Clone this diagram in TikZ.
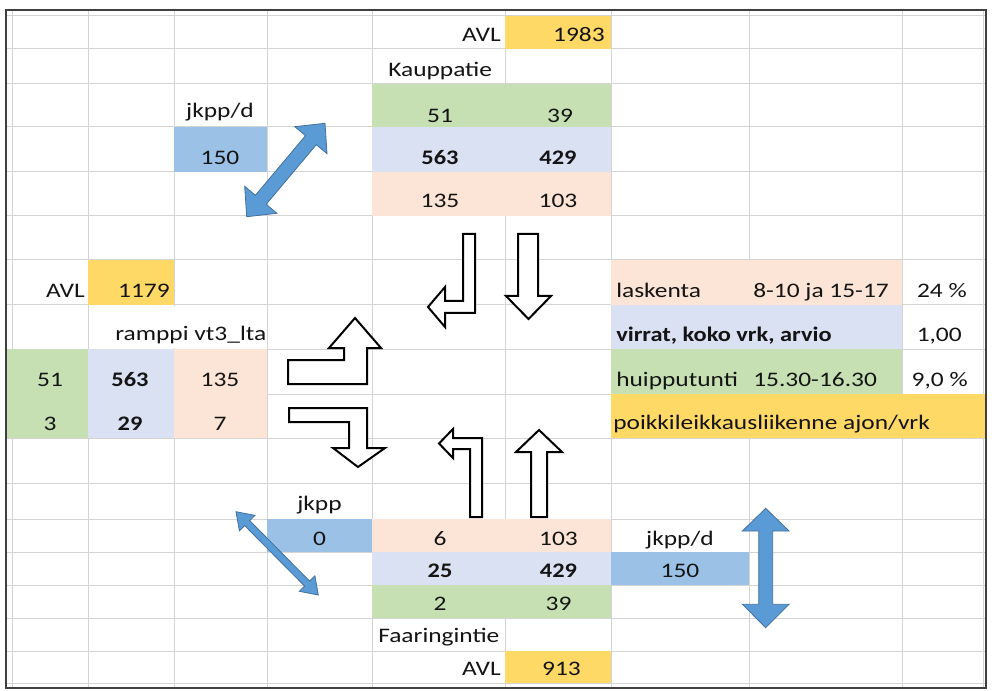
\documentclass[tikz,border=0pt]{standalone}
\usepackage{fontspec}
\setmainfont{Carlito}[FakeStretch=1.23,BoldFeatures={FakeStretch=1.18}]
\definecolor{cgreen}{HTML}{C6E0B4}
\definecolor{clav}{HTML}{D9E1F2}
\definecolor{cpeach}{HTML}{FCE4D6}
\definecolor{corange}{HTML}{FFD966}
\definecolor{cblue}{HTML}{9BC2E6}
\definecolor{carrow}{HTML}{5B9BD5}
\definecolor{carrowb}{HTML}{41719C}
\definecolor{cgrid}{HTML}{D4D4D4}
\definecolor{cframe}{HTML}{404040}
\definecolor{ctext}{HTML}{141414}
\begin{document}
\begin{tikzpicture}[x=0.75pt,y=-0.75pt,
  gridline/.style={draw=cgrid,line width=0.75pt},
  txt/.style={inner sep=0pt,text=ctext,font=\fontsize{15.5pt}{18pt}\selectfont},
  btxt/.style={txt,font=\fontsize{15.5pt}{18pt}\selectfont\bfseries},
  blockarrow/.style={draw=black,fill=white,line width=1.5pt,line join=miter},
  bluearrow/.style={draw=carrowb,fill=carrow,line width=0.6pt,line join=miter}]
\useasboundingbox (0,0) rectangle (995,691);
\fill[white] (0,0) rectangle (995,691);
% grid
\foreach \x in {12,88,174,267,372,505,611,749,902,983}
  \draw[gridline] (\x,11) -- (\x,688);
\foreach \y in {16,49,84,127,172,216,260,305,349,394,438,483,519,552,585,618,651,683}
  \draw[gridline] (7,\y) -- (985,\y);
% fills top
\fill[corange] (505,16) rectangle (611,49);
\fill[cgreen] (372,84) rectangle (611,127);
\fill[clav] (372,127) rectangle (611,172);
\fill[cpeach] (372,172) rectangle (611,216);
\fill[cblue] (174,127) rectangle (267,172);
% fills left
\fill[corange] (88,260) rectangle (174,305);
\fill[cgreen] (7,349) rectangle (88,438);
\fill[clav] (88,349) rectangle (174,438);
\fill[cpeach] (174,349) rectangle (267,438);
\fill[white] (170,306) rectangle (178,348);
% fills right
\fill[cpeach] (611,260) rectangle (902,305);
\fill[clav] (611,305) rectangle (902,349);
\fill[cgreen] (611,349) rectangle (902,394);
\fill[corange] (611,394) rectangle (985,438);
% fills bottom
\fill[cblue] (267,519) rectangle (372,552);
\fill[cpeach] (372,519) rectangle (611,552);
\fill[clav] (372,552) rectangle (611,585);
\fill[cgreen] (372,585) rectangle (611,618);
\fill[cblue] (611,552) rectangle (749,585);
\fill[corange] (505,651) rectangle (611,683);
% frame
\draw[cframe,line width=1.8pt] (6,10) rectangle (986,688);
% block arrows
\draw[blockarrow] (463,234) -- (475,234) -- (475,313) -- (445,313) -- (445,327) -- (428,307) -- (445,287) -- (445,301) -- (463,301) -- cycle;
\draw[blockarrow] (518,234) -- (538,234) -- (538,296) -- (551,296) -- (528.5,319) -- (506,296) -- (518,296) -- cycle;
\draw[blockarrow] (288,360) -- (344,360) -- (344,348) -- (329,348) -- (355,318) -- (381,348) -- (367,348) -- (367,384) -- (288,384) -- cycle;
\draw[blockarrow] (289,408) -- (367,408) -- (367,448) -- (385,448) -- (358,467) -- (333,448) -- (349,448) -- (349,422) -- (289,422) -- cycle;
\draw[blockarrow] (470,517) -- (482,517) -- (482,438) -- (453,438) -- (453,429) -- (439,443.5) -- (453,458) -- (453,449) -- (470,449) -- cycle;
\draw[blockarrow] (531,517) -- (547,517) -- (547,452) -- (562,452) -- (539,430) -- (516,452) -- (531,452) -- cycle;
% blue double arrows
\draw[bluearrow] (325,123.3) -- (327.0,153.7) -- (316.3,144.7) -- (266.2,204.3) -- (276.9,213.3) -- (246.7,216.7) -- (244.7,186.3) -- (255.4,195.3) -- (305.5,135.7) -- (294.8,126.7) -- cycle;
\draw[bluearrow] (318.3,595) -- (299.3,591.3) -- (304.6,586.1) -- (244.7,525.6) -- (239.4,530.8) -- (236,511.7) -- (255.0,515.4) -- (249.7,520.6) -- (309.6,581.1) -- (314.9,575.9) -- cycle;
\draw[bluearrow] (765.7,508.3) -- (789,531) -- (772.7,531) -- (772.7,604.3) -- (789,604.3) -- (765.7,627.7) -- (742.4,604.3) -- (758.7,604.3) -- (758.7,531) -- (742.4,531) -- cycle;
% texts top
\node[txt,anchor=base east] (avlT) at (501,42) {AVL};
\node[txt,anchor=base east] (v1983) at (605,42) {1983};
\node[txt,anchor=base west] (kaup) at (388,77) {Kauppatie};
\node[txt,anchor=base] (jkppdT) at (220,118) {jkpp/d};
\node[txt,anchor=base] (n51a) at (440,123) {51};
\node[txt,anchor=base] (n39a) at (560,123) {39};
\node[txt,anchor=base] (n150a) at (220,165) {150};
\node[btxt,anchor=base] (n563a) at (440,165) {563};
\node[btxt,anchor=base] (n429a) at (558,165) {429};
\node[txt,anchor=base] (n135a) at (440,208) {135};
\node[txt,anchor=base] (n103a) at (558,208) {103};
% texts left
\node[txt,anchor=base east] (avlL) at (85,297.5) {AVL};
\node[txt,anchor=base east] (v1179) at (170,297.5) {1179};
\node[txt,anchor=base west] (ramppi) at (115,340) {ramppi vt3\_lta};
\node[txt,anchor=base] (n51b) at (50,386.7) {51};
\node[btxt,anchor=base] (n563b) at (130,386.7) {563};
\node[txt,anchor=base] (n135b) at (220,386.7) {135};
\node[txt,anchor=base] (n3) at (50,430) {3};
\node[btxt,anchor=base] (n29) at (130,430) {29};
\node[txt,anchor=base] (n7) at (220,430) {7};
% texts right
\node[txt,anchor=base west] (lask) at (616,297.5) {laskenta};
\node[txt,anchor=base west] (aika) at (753,297.5) {8-10 ja 15-17};
\node[txt,anchor=base east] (pct24) at (967,297.5) {24~\%};
\node[btxt,anchor=base west] (virrat) at (616,342) {virrat, koko vrk, arvio};
\node[txt,anchor=base east] (v100) at (962,342) {1,00};
\node[txt,anchor=base west] (huippu) at (616,386.7) {huipputunti};
\node[txt,anchor=base west] (aika2) at (753,386.7) {15.30-16.30};
\node[txt,anchor=base east] (pct9) at (968,386.7) {9,0~\%};
\node[txt,anchor=base west] (poikki) at (613,429) {poikkileikkausliikenne ajon/vrk};
% texts bottom
\node[txt,anchor=base] (jkpp) at (319.5,510.7) {jkpp};
\node[txt,anchor=base] (n0) at (319.5,545) {0};
\node[txt,anchor=base] (n6) at (440,545) {6};
\node[txt,anchor=base] (n103b) at (558.5,545) {103};
\node[txt,anchor=base] (jkppd2) at (680,545) {jkpp/d};
\node[btxt,anchor=base] (n25) at (440,577.7) {25};
\node[btxt,anchor=base] (n429b) at (558.5,577.7) {429};
\node[txt,anchor=base] (n150b) at (680,577.7) {150};
\node[txt,anchor=base] (n2) at (440,610) {2};
\node[txt,anchor=base] (n39b) at (558.5,610) {39};
\node[txt,anchor=base west] (faar) at (378,642.7) {Faaringintie};
\node[txt,anchor=base east] (avlB) at (501,675) {AVL};
\node[txt,anchor=base] (v913) at (561.5,675) {913};
\end{tikzpicture}
\end{document}
